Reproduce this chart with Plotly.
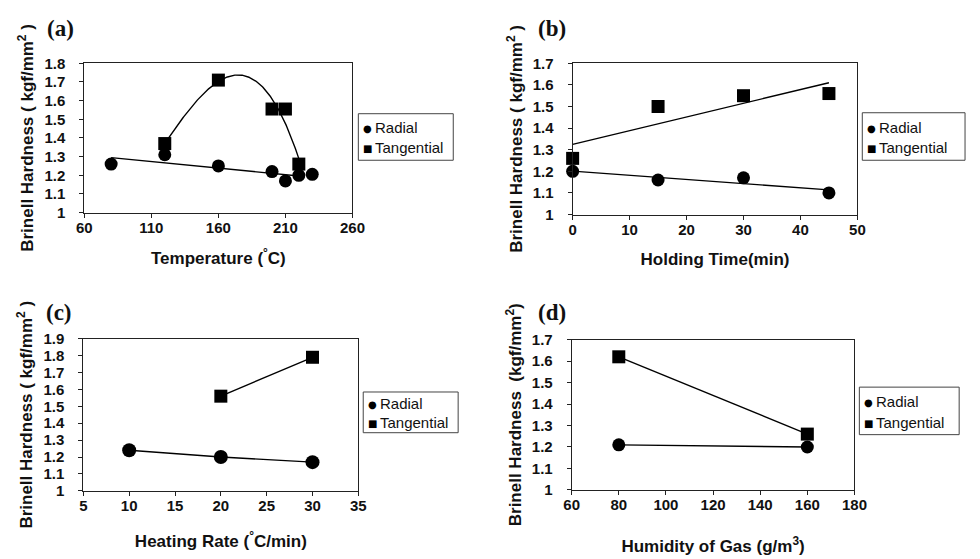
import numpy as np
import plotly.graph_objects as go

W, H = 980, 559

# ---------------- data ----------------
# (a) Temperature
temp_radial_x = [80, 120, 160, 200, 210, 220, 230]
temp_radial_y = [1.26, 1.31, 1.25, 1.22, 1.17, 1.20, 1.205]
temp_tang_x = [120, 160, 200, 210, 220]
temp_tang_y = [1.37, 1.71, 1.555, 1.555, 1.26]

# (b) Holding time
hold_x = [0, 15, 30, 45]
hold_radial_y = [1.20, 1.16, 1.17, 1.10]
hold_tang_y = [1.26, 1.50, 1.55, 1.56]

# (c) Heating rate
rate_radial_x = [10, 20, 30]
rate_radial_y = [1.24, 1.20, 1.17]
rate_tang_x = [20, 30]
rate_tang_y = [1.56, 1.79]

# (d) Humidity of gas
hum_x = [80, 160]
hum_radial_y = [1.21, 1.20]
hum_tang_y = [1.62, 1.26]

series_names = ["Radial", "Tangential"]
panel_labels = ["(a)", "(b)", "(c)", "(d)"]
x_titles = ["Temperature (<sup>°</sup>C)", "Holding Time(min)",
            "Heating Rate (<sup>°</sup>C/min)", "Humidity of Gas (g/m<sup>3</sup>)"]
y_titles = ["Brinell Hardness ( kgf/mm<sup>2</sup> )", "Brinell Hardness ( kgf/mm<sup>2</sup> )",
            "Brinell Hardness ( kgf/mm<sup>2</sup> )", "Brinell Hardness \u00a0(kgf/mm<sup>2</sup>)"]
x_ranges = [(60, 260, 50), (0, 50, 10), (5, 35, 5), (60, 180, 20)]
y_ranges = [(1, 1.8), (1, 1.7), (1, 1.9), (1, 1.7)]

# ---------------- styling helpers ----------------
FONT = "Liberation Sans, Arial, sans-serif"
SERIF = "Liberation Serif, Times New Roman, serif"

def px(x):
    return x / W

def py(y):
    return 1 - y / H

# plot boxes in pixels: (x0, x1, y0_top, y1_bottom)
boxes = [(78, 352, 56, 210), (577, 868, 56, 212), (77, 358, 340, 497), (576, 865, 341, 496)]
label_pos = [(54, 20), (556, 20), (52, 313), (556, 313)]
legend_boxes = [(358, 455, 108, 156), (873, 978, 107, 156), (363, 460, 395, 437), (870, 972, 390, 439)]
legend_rows = [(122, 143), (122, 143), (407, 426), (405, 426)]
x_standoffs = [17, 16, 22, 28]
y_standoffs = [6, 5, 6, 5]

fig = go.Figure()

def add_markers(i, x, y, symbol, size):
    ax = "" if i == 0 else str(i + 1)
    fig.add_trace(go.Scatter(x=x, y=y, mode="markers", xaxis="x" + ax, yaxis="y" + ax,
                             marker=dict(symbol=symbol, size=size, color="black"),
                             cliponaxis=False, showlegend=False))

def add_line(i, x, y):
    ax = "" if i == 0 else str(i + 1)
    fig.add_trace(go.Scatter(x=x, y=y, mode="lines", xaxis="x" + ax, yaxis="y" + ax,
                             line=dict(color="black", width=1.4),
                             cliponaxis=False, showlegend=False, hoverinfo="skip"))

# (a) fitted trend curves
ra_fit = np.polyfit(temp_radial_x[:6], temp_radial_y[:6], 1)
ra_xx = np.array([temp_radial_x[0], temp_radial_x[5]])
add_line(0, ra_xx, np.polyval(ra_fit, ra_xx))
ta_fit = np.polyfit(temp_tang_x, temp_tang_y, 3)
ta_xx = np.linspace(temp_tang_x[0], temp_tang_x[-1], 200)
add_line(0, ta_xx, np.polyval(ta_fit, ta_xx))
add_markers(0, temp_radial_x, temp_radial_y, "circle", 13)
add_markers(0, temp_tang_x, temp_tang_y, "square", 13)

# (b) linear trends
rb_fit = np.polyfit(hold_x, hold_radial_y, 1)
tb_fit = np.polyfit(hold_x, hold_tang_y, 1)
bx = np.array([hold_x[0], hold_x[-1]])
add_line(1, bx, np.polyval(rb_fit, bx))
add_line(1, bx, np.polyval(tb_fit, bx))
add_markers(1, hold_x, hold_radial_y, "circle", 13)
add_markers(1, hold_x, hold_tang_y, "square", 13)

# (c) connected points
add_line(2, rate_radial_x, rate_radial_y)
add_line(2, rate_tang_x, rate_tang_y)
add_markers(2, rate_radial_x, rate_radial_y, "circle", 14)
add_markers(2, rate_tang_x, rate_tang_y, "square", 13)

# (d) connected points
add_line(3, hum_x, hum_radial_y)
add_line(3, hum_x, hum_tang_y)
add_markers(3, hum_x, hum_radial_y, "circle", 13)
add_markers(3, hum_x, hum_tang_y, "square", 13)

layout = dict(
    width=W, height=H, margin=dict(l=0, r=0, t=0, b=0),
    paper_bgcolor="white", plot_bgcolor="white", showlegend=False,
    font=dict(family=FONT, color="#111"),
)

annotations = []
shapes = []
for i in range(4):
    x0, x1, yt, yb = boxes[i]
    ax = "" if i == 0 else str(i + 1)
    xr = x_ranges[i]
    yr = y_ranges[i]
    common = dict(showline=True, mirror=True, linecolor="#222", linewidth=1,
                  ticks="outside", ticklen=4, tickcolor="#222", showgrid=False,
                  zeroline=False, tickfont=dict(family=FONT, size=15, weight="bold", color="#111"))
    layout["xaxis" + ax] = dict(common, domain=[px(x0), px(x1)], range=[xr[0], xr[1]],
                                tick0=xr[0], dtick=xr[2], anchor="y" + ax, ticklabelstandoff=-3,
                                title=dict(text=x_titles[i], standoff=x_standoffs[i],
                                           font=dict(family=FONT, size=17, weight="bold", color="#111")))
    layout["yaxis" + ax] = dict(common, domain=[py(yb), py(yt)], range=[yr[0], yr[1]],
                                tick0=1, dtick=0.1, anchor="x" + ax, ticklabelstandoff=11,
                                title=dict(text=y_titles[i], standoff=y_standoffs[i],
                                           font=dict(family=FONT, size=17, weight="bold", color="#111")))
    # panel label
    lx, ly = label_pos[i]
    annotations.append(dict(text="<b>" + panel_labels[i] + "</b>", x=px(lx), y=py(ly),
                            xref="paper", yref="paper", showarrow=False,
                            xanchor="center", yanchor="middle",
                            font=dict(family=SERIF, size=23, color="#111")))
    # legend box
    bx0, bx1, by0, by1 = legend_boxes[i]
    shapes.append(dict(type="rect", xref="paper", yref="paper",
                       x0=px(bx0), x1=px(bx1), y0=py(by1), y1=py(by0),
                       line=dict(color="#444", width=1), fillcolor="white", layer="above"))
    r1, r2 = legend_rows[i]
    for row_y, glyph, name in [(r1, "\u25cf", series_names[0]), (r2, "\u25a0", series_names[1])]:
        annotations.append(dict(text=glyph, x=px(bx0 + 9), y=py(row_y + 1),
                                xref="paper", yref="paper", showarrow=False,
                                xanchor="center", yanchor="middle",
                                font=dict(family="DejaVu Sans", size=10, color="black")))
        annotations.append(dict(text=name, x=px(bx0 + 15), y=py(row_y),
                                xref="paper", yref="paper", showarrow=False,
                                xanchor="left", yanchor="middle",
                                font=dict(family=FONT, size=15, color="#111")))

layout["annotations"] = annotations
layout["shapes"] = shapes
fig.update_layout(**layout)
fig.write_html("out.html")
